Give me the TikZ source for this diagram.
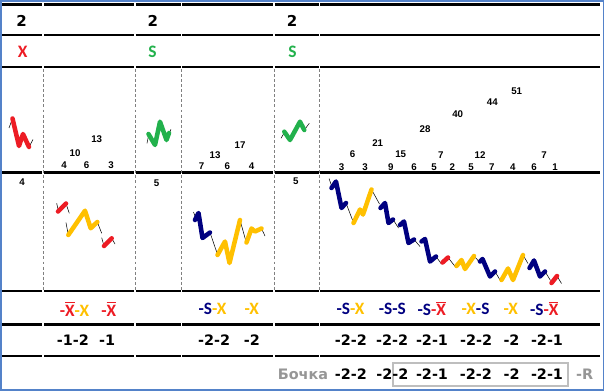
\documentclass[tikz,border=0pt]{standalone}
\usepackage{fontspec}
\setmainfont{Liberation Sans}
\newfontfamily\dejavu{DejaVu Sans}
\newfontfamily\carlito{Carlito}
\usepackage{xcolor}

\definecolor{xred}{RGB}{237,28,36}
\definecolor{xgold}{RGB}{255,192,0}
\definecolor{xgreen}{RGB}{34,177,76}
\definecolor{xnavy}{RGB}{0,0,128}
\definecolor{xgray}{RGB}{150,150,150}
\definecolor{xbox}{RGB}{190,190,190}
\definecolor{xframe}{RGB}{84,130,201}

% X with a bar on top
\newcommand{\barX}{\leavevmode\setbox0=\hbox{X}\rlap{\rule[\dimexpr\ht0+1.1pt\relax]{\wd0}{1.3pt}}\box0}
\newcommand{\navS}{\textcolor{xnavy}{-S}}
\newcommand{\goldX}{\textcolor{xgold}{-X}}
\newcommand{\redX}{\textcolor{xred}{-\barX}}

\tikzset{
  rule/.style={line width=2pt},
  colsep/.style={color=gray, line width=0.6pt, dash pattern=on 2.2pt off 1.6pt},
  wave/.style={line width=3.4pt, line join=round, line cap=round},
  tail/.style={line width=0.4pt},
  head/.style={inner sep=0pt, font=\dejavu\bfseries\fontsize{11.25}{13}\selectfont},
  mark letter/.style={inner sep=0pt, font=\carlito\bfseries\fontsize{13.1}{15}\selectfont},
  count/.style={inner sep=0pt, font=\bfseries\fontsize{7.3}{8}\selectfont},
  code/.style={inner sep=0pt, font=\carlito\bfseries\fontsize{13}{14}\selectfont},
  total/.style={inner sep=0pt, font=\dejavu\bfseries\fontsize{10.8}{12}\selectfont},
}

\begin{document}
\begin{tikzpicture}[x=0.75pt,y=0.75pt,yscale=-1,xscale=1]
\useasboundingbox (0,0) rectangle (606,392);

%Shape: Frame
\draw [color=xframe, line width=1.1pt] (0.8,0.8) rectangle (603.4,390);

%Shape: Lines of the table
\draw [rule] (2,4.5) -- (42.4,4.5) (44.2,4.5) -- (134.1,4.5) (135.9,4.5) -- (180.6,4.5) (182.4,4.5) -- (273.1,4.5) (274.9,4.5) -- (318.6,4.5) (320.4,4.5) -- (600,4.5);
\draw [rule] (2,35) -- (42.4,35) (44.2,35) -- (134.1,35) (135.9,35) -- (180.6,35) (182.4,35) -- (273.1,35) (274.9,35) -- (318.6,35) (320.4,35) -- (600,35);
\draw [rule] (2,67) -- (42.4,67) (44.2,67) -- (134.1,67) (135.9,67) -- (180.6,67) (182.4,67) -- (273.1,67) (274.9,67) -- (318.6,67) (320.4,67) -- (600,67);
\draw [rule] (2,172.5) -- (42.4,172.5) (44.2,172.5) -- (134.1,172.5) (135.9,172.5) -- (180.6,172.5) (182.4,172.5) -- (273.1,172.5) (274.9,172.5) -- (318.6,172.5) (320.4,172.5) -- (600,172.5);
\draw [rule] (2,291) -- (42.4,291) (44.2,291) -- (134.1,291) (135.9,291) -- (180.6,291) (182.4,291) -- (273.1,291) (274.9,291) -- (318.6,291) (320.4,291) -- (600,291);
\draw [rule] (2,324.5) -- (42.4,324.5) (44.2,324.5) -- (134.1,324.5) (135.9,324.5) -- (180.6,324.5) (182.4,324.5) -- (273.1,324.5) (274.9,324.5) -- (318.6,324.5) (320.4,324.5) -- (600,324.5);
\draw [rule] (2,356) -- (42.4,356) (44.2,356) -- (134.1,356) (135.9,356) -- (180.6,356) (182.4,356) -- (273.1,356) (274.9,356) -- (318.6,356) (320.4,356) -- (600,356);

%Shape: Dashed columns
\draw [colsep] (43.3,69) -- (43.3,290) (135,69) -- (135,290) (181.5,69) -- (181.5,290) (274,69) -- (274,290) (319.5,69) -- (319.5,290);

%Shape: Wave, first block, top
\draw [tail] (9,128) -- (12.5,118.5) (29,147) -- (33,139.5);
\draw [wave, color=xred] (12.5,118.5) -- (19,146) -- (23,134) -- (29,147);
%Shape: Wave, first block, bottom
\draw [tail] (56.7,203.3) -- (58.5,211.5) (66,203.5) -- (69.3,213.3) (66,222.7) -- (68.3,235) (97.3,222) -- (101.7,233.3) (101.7,237.7) -- (104,246) (111.7,238.3) -- (115,244);
\draw [wave, color=xred] (58,211.5) -- (66,203.5);
\draw [wave, color=xgold] (68.3,235) -- (85,210.7) -- (90.7,228.3) -- (97.3,222);
\draw [wave, color=xred] (104,246) -- (111.7,238.3);

%Shape: Wave, second block, top
\draw [tail] (147,143.3) -- (149,133.5) (168.5,135) -- (171,129.3);
\draw [wave, color=xgreen] (148.5,134) -- (155,145) -- (160,121.7) -- (166.5,140) -- (169,133);
%Shape: Wave, second block, bottom
\draw [tail] (193.5,212) -- (196,219) (210,232.5) -- (217,253) (240,220) -- (246,241.5) (261.5,228.5) -- (265,236);
\draw [wave, color=xnavy] (195,220) -- (198.5,213) -- (202.5,238) -- (210,232.5);
\draw [wave, color=xgold] (217.5,255) -- (225,241.5) -- (229.5,263) -- (240,220);
\draw [wave, color=xgold] (246.5,242.5) -- (251.5,228.5) -- (255,231.5) -- (261.5,228.5);

%Shape: Wave, third block, top
\draw [tail] (281,138.3) -- (285,131.5) (304.3,130) -- (309.3,123.3);
\draw [wave, color=xgreen] (284.3,131.7) -- (290,140) -- (300,121.7) -- (304.3,130);
%Shape: Wave, third block, bottom
\draw [tail] (329,178.5) -- (332,187) (346,203) -- (352.5,220) (371.5,189.5) -- (379.5,204) (393,219.5) -- (398.5,228) (414,239.5) -- (420,246.5) (436,256.5) -- (441.5,264) (448,257.5) -- (455.5,267) (474,256) -- (478.5,261) (495,271.5) -- (500,280) (523,255) -- (528,263.5) (545,271.5) -- (550.5,280.5) (557,276) -- (561.5,283.5);
\draw [wave, color=xnavy] (331.5,188) -- (336,181.5) -- (341.5,208) -- (346,203);
\draw [wave, color=xgold] (353.5,223) -- (360,209.5) -- (363,214.5) -- (371.5,189.5);
\draw [wave, color=xnavy] (380.5,208) -- (385,203) -- (388.5,223) -- (393,219.5);
\draw [wave, color=xnavy] (400,225) -- (404,221.5) -- (408.5,243) -- (414,239.5);
\draw [wave, color=xnavy] (421.5,241.5) -- (425,239) -- (430,261.5) -- (436,256.5);
\draw [wave, color=xred] (442.5,262.5) -- (448,257.5);
\draw [wave, color=xgold] (456.5,266) -- (461.5,260) -- (465,269) -- (474,256);
\draw [wave, color=xnavy] (480,261.5) -- (482.5,259) -- (490,276.5) -- (495,271.5);
\draw [wave, color=xgold] (501.5,280) -- (508,268.5) -- (513,280) -- (523,255);
\draw [wave, color=xnavy] (529.5,268) -- (534,260.5) -- (540,276.5) -- (545,271.5);
\draw [wave, color=xred] (551.5,283) -- (557,276);

%Shape: Bracket round the last totals
\draw [color=xbox, line width=1.5pt] (393.3,362.7) rectangle (568.3,386);

% Text Node: heads
\node [head] (headA) at (21.7,20.5) {2};
\node [head] (headB) at (152.8,20.5) {2};
\node [head] (headC) at (292,20.5) {2};
\node [mark letter, color=xred] (markA) at (22.8,51.7) {X};
\node [mark letter, color=xgreen] (markB) at (152.6,51.7) {S};
\node [mark letter, color=xgreen] (markC) at (292.4,51.7) {S};

% Text Node: counts, first block
\node [count] (cA1) at (64,165.5) {4};
\node [count] (cA2) at (75,153.5) {10};
\node [count] (cA3) at (86.7,165.5) {6};
\node [count] (cA4) at (96.7,139.5) {13};
\node [count] (cA5) at (111,165.5) {3};
\node [count] (cA0) at (22.2,182) {4};
% Text Node: counts, second block
\node [count] (cB1) at (201.7,166) {7};
\node [count] (cB2) at (215,155) {13};
\node [count] (cB3) at (227.3,166) {6};
\node [count] (cB4) at (240,145) {17};
\node [count] (cB5) at (251.7,166) {4};
\node [count] (cB0) at (156.7,183.5) {5};
% Text Node: counts, third block
\node [count] (cC1) at (341.7,166.7) {3};
\node [count] (cC2) at (352.7,154.5) {6};
\node [count] (cC3) at (365,166.7) {3};
\node [count] (cC4) at (377.7,143.5) {21};
\node [count] (cC5) at (390.7,166.7) {9};
\node [count] (cC6) at (400.7,154.5) {15};
\node [count] (cC7) at (414,166.7) {6};
\node [count] (cC8) at (425,129.5) {28};
\node [count] (cC9) at (434,166.7) {5};
\node [count] (cC10) at (440.7,155) {7};
\node [count] (cC11) at (452.3,166.7) {2};
\node [count] (cC12) at (457.7,114) {40};
\node [count] (cC13) at (471,166.7) {5};
\node [count] (cC14) at (480,155.3) {12};
\node [count] (cC15) at (491.7,166.7) {7};
\node [count] (cC16) at (492.3,102.3) {44};
\node [count] (cC17) at (512.7,166.7) {4};
\node [count] (cC18) at (516.7,91.7) {51};
\node [count] (cC19) at (534,166.7) {6};
\node [count] (cC20) at (544,155) {7};
\node [count] (cC21) at (555,166.7) {1};
\node [count] (cC0) at (295.8,181.2) {5};

% Text Node: codes
\node [code] (codeA1) at (74.5,308.8) {\redX\goldX};
\node [code] (codeA2) at (108.7,308.8) {\redX};
\node [code] (codeB1) at (212.5,308.8) {\navS\goldX};
\node [code] (codeB2) at (251.8,308.8) {\goldX};
\node [code] (codeC1) at (350.5,308.8) {\navS\goldX};
\node [code] (codeC2) at (392.3,308.8) {\navS\navS};
\node [code] (codeC3) at (431.7,308.8) {\navS\redX};
\node [code] (codeC4) at (475.5,308.8) {\goldX\navS};
\node [code] (codeC5) at (510.8,308.8) {\goldX};
\node [code] (codeC6) at (544.3,308.8) {\navS\redX};

% Text Node: totals
\node [total] (sumA1) at (72.8,340.5) {-1-2};
\node [total] (sumA2) at (107.2,340.5) {-1};
\node [total] (sumB1) at (214.2,340.5) {-2-2};
\node [total] (sumB2) at (251.8,340.5) {-2};
\node [total] (sumC1) at (350.8,340.5) {-2-2};
\node [total] (sumC2) at (392.2,340.5) {-2-2};
\node [total] (sumC3) at (432,340.5) {-2-1};
\node [total] (sumC4) at (476.2,340.5) {-2-2};
\node [total] (sumC5) at (511.5,340.5) {-2};
\node [total] (sumC6) at (547,340.5) {-2-1};

% Text Node: last row
\node [total, color=xgray] (barrel) at (303,374.2) {Бочка};
\node [total] (lastC1) at (350.8,374.2) {-2-2};
\node [total] (lastC2) at (392.3,374.2) {-2-2};
\node [total] (lastC3) at (432,374.2) {-2-1};
\node [total] (lastC4) at (475.8,374.2) {-2-2};
\node [total] (lastC5) at (511.7,374.2) {-2};
\node [total] (lastC6) at (547,374.2) {-2-1};
\node [total, color=xgray] (rest) at (584.7,374.2) {-R};

\end{tikzpicture}
\end{document}
